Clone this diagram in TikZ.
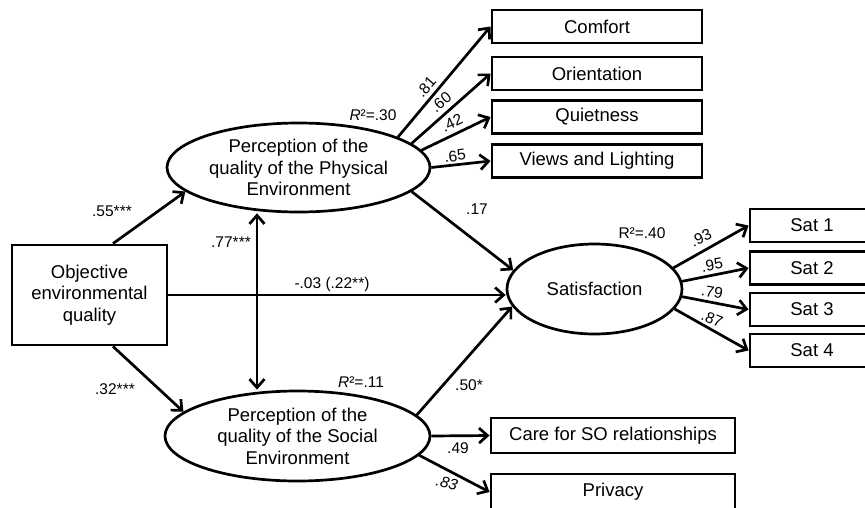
\documentclass[tikz,border=0pt]{standalone}
\usepackage{fontspec}
\setmainfont{Liberation Sans}
\usetikzlibrary{arrows.meta,shapes.geometric}
\begin{document}
\begin{tikzpicture}[x=1pt,y=-1pt,
  line width=2.7pt,
  tipend/.tip={Straight Barb[length=8.5pt,width=15pt]},
  arr/.style={-tipend},
  dblarr/.style={tipend-tipend},
  box/.style={draw,line width=2.9pt,rectangle,inner sep=0pt,font=\fontsize{18.5pt}{21.5pt}\selectfont,align=center},
  lat/.style={draw,ellipse,inner sep=0pt,font=\fontsize{18.5pt}{21.5pt}\selectfont,align=center},
  lbl/.style={inner sep=0pt,font=\fontsize{15.5pt}{18pt}\selectfont}]
\useasboundingbox (0,0) rectangle (865,507);
\clip (0,0) rectangle (865,507);
% observed / latent nodes
\node[box,minimum width=155pt,minimum height=100pt] (obj) at (89.5,295) {Objective\\environmental\\quality};
\node[lat,minimum width=263pt,minimum height=89pt] (phys) at (298.5,167.5) {Perception of the\\quality of the Physical\\Environment};
\node[lat,minimum width=265pt,minimum height=90pt] (soc) at (297.5,436) {Perception of the\\quality of the Social\\Environment};
\node[lat,minimum width=175pt,minimum height=90pt] (sat) at (594.5,289) {Satisfaction};
% indicator boxes
\node[box,minimum width=210pt,minimum height=33pt] (comfort) at (597,26.5) {Comfort};
\node[box,minimum width=210pt,minimum height=33pt] (orient) at (597,73.5) {Orientation};
\node[box,minimum width=210pt,minimum height=33pt] (quiet) at (597,117) {Quietness};
\node[box,minimum width=210pt,minimum height=33pt] (views) at (597,161) {Views and Lighting};
\node[box,minimum width=124pt,minimum height=33pt] (sat1) at (812,225.5) {Sat 1};
\node[box,minimum width=124pt,minimum height=33pt] (sat2) at (812,268) {Sat 2};
\node[box,minimum width=124pt,minimum height=33pt] (sat3) at (812,309.5) {Sat 3};
\node[box,minimum width=124pt,minimum height=33pt] (sat4) at (812,350.5) {Sat 4};
\node[box,minimum width=244pt,minimum height=35pt] (care) at (613,435.5) {Care for SO relationships};
\node[box,minimum width=244pt,minimum height=36pt] (priv) at (613,492) {Privacy};
% connectors
\coordinate (dx) at (257,0);
\draw[arr] ([xshift=23.5pt]obj.north) -- (phys.192);
\draw[arr] ([xshift=23.5pt]obj.south) -- (soc.168);
\draw[arr] (obj.east) -- (obj.east -| sat.west);
\draw[dblarr] (phys.south -| dx) -- (soc.north -| dx);
\draw[arr] (phys.-12) -- (sat.167);
\draw[arr] (soc.10) -- (sat.192);
\draw[arr] (phys.17) -- (comfort.west);
\draw[arr] (phys.12.6) -- (orient.west);
\draw[arr] (phys.8) -- (quiet.west);
\draw[arr] (phys.0) -- (views.west);
\draw[arr] (sat.15) -- (sat1.west);
\draw[arr] (sat.5) -- (sat2.west);
\draw[arr] (sat.-5) -- (sat3.west);
\draw[arr] (sat.-14) -- (sat4.west);
\draw[arr] (soc.east) -- (care.west);
\draw[arr] (soc.-9) -- (priv.west);
% labels
\node[lbl,rotate=49] (l81) at (426,87) {.81};
\node[lbl,rotate=40] (l60) at (441,102) {.60};
\node[lbl,rotate=25] (l42) at (452,123) {.42};
\node[lbl,rotate=8] (l65) at (455,156) {.65};
\node[lbl] (r30) at (373,115) {{\itshape R}²=.30};
\node[lbl] (l55) at (112,211) {.55***};
\node[lbl] (l77) at (231,242) {.77***};
\node[lbl] (l03) at (332,284) {-.03 (.22**)};
\node[lbl] (l32) at (115,389) {.32***};
\node[lbl] (l17) at (477,209) {.17};
\node[lbl] (r40) at (642,233) {R²=.40};
\node[lbl,rotate=25] (l93) at (701,238) {.93};
\node[lbl,rotate=10] (l95) at (712,265) {.95};
\node[lbl,rotate=-9] (l79) at (712,292) {.79};
\node[lbl,rotate=-22] (l87) at (712,319) {.87};
\node[lbl] (r11) at (361,382) {{\itshape R}²=.11};
\node[lbl] (l50) at (469,385) {.50*};
\node[lbl] (l49) at (458,448) {.49};
\node[lbl,rotate=-15] (l83) at (447,483) {\itshape .83};
\end{tikzpicture}
\end{document}
